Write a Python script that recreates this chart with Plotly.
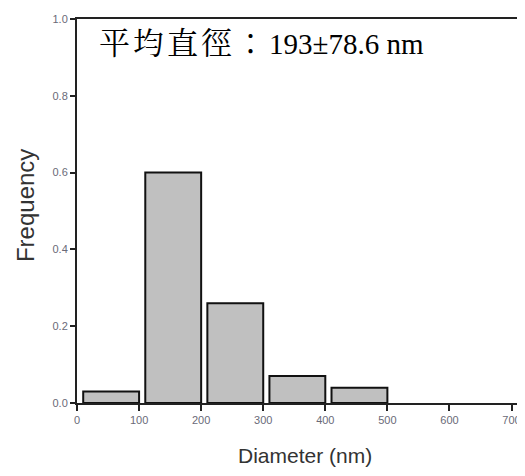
import plotly.graph_objects as go

bin_centers = [55, 155, 255, 355, 455]
frequency = [0.03, 0.60, 0.26, 0.07, 0.04]
bar_width = 90
x_ticks = [0, 100, 200, 300, 400, 500, 600, 700]
y_ticks = [0.0, 0.2, 0.4, 0.6, 0.8, 1.0]
label_cjk = "平均直徑："
label_value = "193±78.6 nm"
x_title = "Diameter (nm)"
y_title = "Frequency"

fig = go.Figure()
fig.add_trace(go.Bar(
    x=bin_centers, y=frequency, width=bar_width,
    marker=dict(color="#c0c0c0", line=dict(color="#111111", width=2)),
))

# page body has an 8px margin: the figure is sized/margined to compensate
tick_font = dict(family="Liberation Sans, Arial", size=11, color="#6a6a78")
fig.update_layout(
    width=517, height=460,
    margin=dict(l=69, r=0, t=11, b=65),
    plot_bgcolor="white", paper_bgcolor="white",
    showlegend=False,
    xaxis=dict(
        range=[0, 721.7], tickvals=x_ticks, ticks="outside", ticklen=6, tickwidth=2,
        tickcolor="#222222", showline=True, linewidth=2, linecolor="#222222",
        mirror=True, showgrid=False, zeroline=False, tickfont=tick_font, automargin=False,
    ),
    yaxis=dict(
        range=[0, 1.0], tickvals=y_ticks, tickformat=".1f", ticks="outside", ticklen=5, tickwidth=2,
        tickcolor="#222222", showline=True, linewidth=2, linecolor="#222222", automargin=False,
        showgrid=False, zeroline=False, tickfont=tick_font,
    ),
    annotations=[
        dict(
            text=f'<span style="font-size:31px;letter-spacing:3px">{label_cjk}</span>{label_value}',
            xref="paper", yref="paper", x=0.044, y=0.935,
            xanchor="left", yanchor="middle", showarrow=False,
            font=dict(family="Liberation Serif, Times New Roman, Noto Serif CJK TC, Noto Sans CJK TC", size=29, color="black"),
        ),
        dict(
            text=x_title, xref="paper", yref="paper", x=0.509, y=-0.138,
            xanchor="center", yanchor="middle", showarrow=False,
            font=dict(family="Liberation Sans, Arial", size=21, color="#333333"),
        ),
        dict(
            text=y_title, xref="paper", yref="paper", x=-0.116, y=0.513, textangle=-90,
            xanchor="center", yanchor="middle", showarrow=False,
            font=dict(family="Liberation Sans, Arial", size=24, color="#333333"),
        ),
    ],
)
fig.write_html("out.html")
